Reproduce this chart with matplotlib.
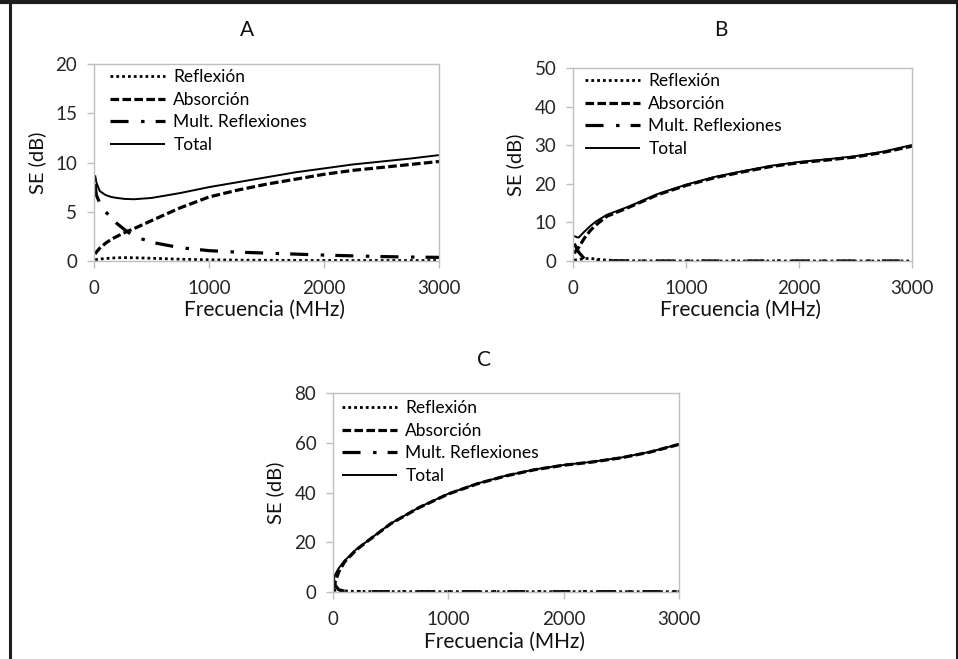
import matplotlib
matplotlib.use("Agg")
import matplotlib.pyplot as plt
from matplotlib.lines import Line2D
import numpy as np

plt.rcParams['font.family'] = ['Lato', 'DejaVu Sans']
plt.rcParams['lines.scale_dashes'] = False

labels = ["Reflexión", "Absorción", "Mult. Reflexiones", "Total"]

# ---- Panel A ----
fA = [10, 20, 50, 100, 150, 200, 270, 350, 500, 750, 1000, 1250, 1500, 1750, 2000, 2250, 2500, 2750, 3000]
refA = [0.1, 0.15, 0.2, 0.25, 0.3, 0.33, 0.34, 0.33, 0.28, 0.18, 0.12, 0.09, 0.07, 0.06, 0.05, 0.05, 0.05, 0.05, 0.05]
absA = [0.7, 0.9, 1.3, 1.8, 2.2, 2.5, 2.9, 3.3, 4.1, 5.4, 6.5, 7.2, 7.8, 8.3, 8.8, 9.2, 9.5, 9.8, 10.1]
mulA = [7.8, 6.7, 5.9, 5.0, 4.4, 3.8, 3.15, 2.5, 1.9, 1.35, 1.05, 0.9, 0.8, 0.7, 0.6, 0.52, 0.45, 0.4, 0.37]
totA = [8.7, 8.0, 7.1, 6.7, 6.5, 6.4, 6.3, 6.27, 6.4, 6.9, 7.5, 8.0, 8.5, 9.0, 9.4, 9.8, 10.1, 10.4, 10.75]

# ---- Panel B ----
fB = [10, 30, 50, 100, 150, 200, 300, 500, 750, 1000, 1250, 1500, 1750, 2000, 2250, 2500, 2750, 3000]
refB = [0.2, 0.3, 0.4, 0.6, 0.7, 0.5, 0.2, 0.05, 0.02, 0.0, 0.0, 0.0, 0.0, 0.0, 0.0, 0.0, 0.0, 0.0]
absB = [2.0, 2.8, 3.5, 5.9, 7.8, 9.3, 11.6, 14.0, 17.2, 19.6, 21.6, 23.1, 24.5, 25.5, 26.2, 27.0, 28.2, 29.8]
mulB = [4.5, 3.5, 2.3, 0.6, 0.25, 0.1, 0.05, 0.02, 0.0, 0.0, 0.0, 0.0, 0.0, 0.0, 0.0, 0.0, 0.0, 0.0]
totB = [6.5, 6.2, 6.1, 7.6, 9.0, 10.2, 12.0, 14.2, 17.4, 19.8, 21.8, 23.3, 24.7, 25.7, 26.4, 27.2, 28.4, 30.1]

# ---- Panel C ----
fC = [5, 10, 20, 50, 100, 200, 300, 500, 750, 1000, 1250, 1500, 1750, 2000, 2250, 2500, 2750, 3000]
refC = [0.4, 0.5, 0.6, 0.6, 0.3, 0.1, 0.05, 0.02, 0.0, 0.0, 0.0, 0.0, 0.0, 0.0, 0.0, 0.0, 0.0, 0.0]
absC = [1.0, 2.0, 4.0, 8.0, 12.0, 16.8, 20.4, 27.4, 34.0, 39.4, 43.5, 46.7, 49.2, 51.0, 52.3, 54.0, 56.3, 59.4]
mulC = [5.0, 4.0, 2.5, 0.8, 0.2, 0.05, 0.0, 0.0, 0.0, 0.0, 0.0, 0.0, 0.0, 0.0, 0.0, 0.0, 0.0, 0.0]
totC = [4.5, 5.5, 7.0, 9.5, 12.5, 17.0, 20.5, 27.5, 34.1, 39.5, 43.6, 46.8, 49.3, 51.1, 52.4, 54.1, 56.4, 59.5]

xticks = [0, 1000, 2000, 3000]

W, H = 958, 659
fig = plt.figure(figsize=(W / 100, H / 100), dpi=100)
fig.patch.set_facecolor('white')

def px(x, y):
    return x / W, 1 - y / H

def rect(l, t, r, b):
    return [l / W, 1 - b / H, (r - l) / W, (b - t) / H]

styles = [
    dict(color='black', lw=2.0, dashes=(2.0, 2.2)),
    dict(color='black', lw=2.3, dashes=(6.2, 2.4)),
    dict(color='black', lw=2.3, dashes=(13, 9, 2.5, 8)),
    dict(color='black', lw=1.4, linestyle='-'),
]

panels = [
    dict(rect=rect(94, 64, 439, 261), f=fA, data=[refA, absA, mulA, totA], ymax=20, ystep=5,
         title="A", tx=247, ty=30, ylx=37, yly=163, xlx=265, xly=310, leg=(110, 69)),
    dict(rect=rect(573, 68.3, 912, 261), f=fB, data=[refB, absB, mulB, totB], ymax=50, ystep=10,
         title="B", tx=721, ty=30, ylx=515, yly=165, xlx=741, xly=310, leg=(585, 73)),
    dict(rect=rect(333, 393.3, 679, 591.7), f=fC, data=[refC, absC, mulC, totC], ymax=80, ystep=20,
         title="C", tx=484, ty=360, ylx=275, yly=493, xlx=505, xly=642, leg=(342, 400)),
]

spine_col = '#bfbfbf'
for p in panels:
    ax = fig.add_axes(p['rect'])
    for lab, ser, st in zip(labels, p['data'], styles):
        ax.plot(p['f'], ser, label=lab, solid_capstyle='butt', dash_capstyle='butt', **st)
    ax.set_xlim(0, 3000)
    ax.set_ylim(0, p['ymax'])
    ax.set_xticks(xticks)
    ax.set_yticks(np.arange(0, p['ymax'] + 1, p['ystep']))
    for s in ax.spines.values():
        s.set_color(spine_col)
        s.set_linewidth(1.0)
    ax.tick_params(axis='both', direction='out', length=5, width=1.0, color=spine_col,
                   labelsize=13.5, labelcolor='#262626')
    ax.tick_params(axis='x', pad=9)
    ax.tick_params(axis='y', pad=7)
    fig.text(*px(p['tx'], p['ty']), p['title'], ha='center', va='center', fontsize=15, color='#111111')
    fig.text(*px(p['ylx'], p['yly']), "SE (dB)", ha='center', va='center', rotation=90,
             fontsize=14.5, color='#111111')
    fig.text(*px(p['xlx'], p['xly']), "Frecuencia (MHz)", ha='center', va='center',
             fontsize=15, color='#111111')
    lx, ly = px(*p['leg'])
    ax.legend(loc='upper left', bbox_to_anchor=(lx, ly), bbox_transform=fig.transFigure,
              frameon=False, fontsize=12.5, handlelength=3.15, handletextpad=0.5,
              labelspacing=0.38, borderpad=0, borderaxespad=0)

# page border lines
bc = '#1e1e1e'
fig.add_artist(Line2D([9.5 / W, 9.5 / W], [0, 1 - 1 / H], transform=fig.transFigure, color=bc, lw=2.2))
fig.add_artist(Line2D([0, 1], [1 - 2 / H, 1 - 2 / H], transform=fig.transFigure, color=bc, lw=3))
fig.add_artist(Line2D([956.5 / W, 956.5 / W], [0, 1], transform=fig.transFigure, color=bc, lw=2.2))

fig.savefig("out.png", dpi=100, facecolor='white')
